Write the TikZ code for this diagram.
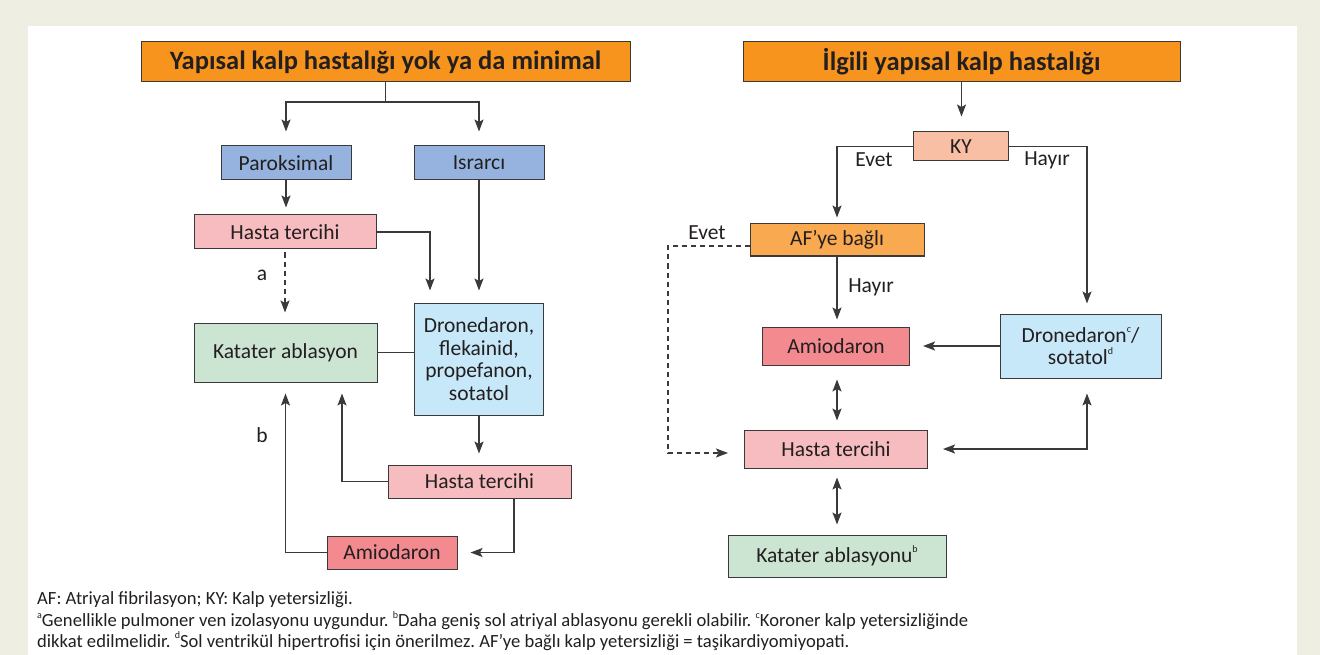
\documentclass[tikz,border=0pt]{standalone}
\usepackage{fontspec}
\setmainfont{Carlito}
\usetikzlibrary{arrows.meta}
\frenchspacing

\definecolor{zemin}{HTML}{EFEEE3}
\definecolor{cizgi}{HTML}{3A3A3A}
\definecolor{yazi}{HTML}{231F20}
\definecolor{turuncu}{HTML}{F7941D}
\definecolor{mavi}{HTML}{95B3DE}
\definecolor{pembe}{HTML}{F7BCBF}
\definecolor{yesil}{HTML}{CCE5D3}
\definecolor{acikmavi}{HTML}{C7E8F8}
\definecolor{kirmizi}{HTML}{F28A8F}
\definecolor{acikturuncu}{HTML}{F9A94F}
\definecolor{somon}{HTML}{F9BFA5}

\newcommand{\ust}[1]{\raisebox{0.45em}{\fontsize{10}{10}\selectfont #1}}

\tikzset{
  >={Stealth[length=12pt,width=9pt,inset=2.5pt]},
  kutu/.style={draw=cizgi, line width=1pt, inner sep=0pt, align=center,
    text=yazi, font=\fontsize{21.5}{22.5}\selectfont},
  baslik/.style={kutu, fill=turuncu, minimum height=40pt,
    font=\fontsize{26.5}{28}\selectfont\bfseries},
  hat/.style={draw=cizgi, line width=1.2pt},
  kesik/.style={dash pattern=on 5pt off 4pt},
  etiket/.style={text=yazi, inner sep=0pt, font=\fontsize{21.5}{22}\selectfont},
  dipnot/.style={text=yazi, inner sep=0pt, anchor=west, font=\fontsize{18.6}{20}\selectfont}
}

\begin{document}
\begin{tikzpicture}[x=1pt,y=-1pt]
\fill[zemin] (0,0) rectangle (1320,655);
\fill[white] (28,26) rectangle (1297,655);

% sol taraf
\node[baslik, minimum width=489pt] (yok) at (385.5,62) {Yapısal kalp hastalığı yok ya da minimal};
\node[kutu, fill=mavi, minimum width=130pt, minimum height=34pt] (parok) at (286,163) {Paroksimal};
\node[kutu, fill=mavi, minimum width=130pt, minimum height=34pt] (israr) at (479,163) {Israrcı};
\node[kutu, fill=pembe, minimum width=182pt, minimum height=34pt] (tercihA) at (285,232) {Hasta tercihi};
\node[kutu, fill=yesil, minimum width=183pt, minimum height=59pt] (ablasA) at (285.5,352.5) {Katater ablasyon};
\node[kutu, fill=acikmavi, minimum width=129pt, minimum height=112pt] (droA) at (479,359) {Dronedaron,\\flekainid,\\propefanon,\\sotatol};
\node[kutu, fill=pembe, minimum width=183pt, minimum height=33pt] (tercihB) at (479.5,481.5) {Hasta tercihi};
\node[kutu, fill=kirmizi, minimum width=130pt, minimum height=33pt] (amioA) at (392,552.5) {Amiodaron};

\coordinate (ayrim) at (385.5,102);
\draw[hat] (yok.south) -- (ayrim);
\draw[hat, ->, shorten >=14pt] (ayrim) -| (parok.north);
\draw[hat, ->, shorten >=14pt] (ayrim) -| (israr.north);
\draw[hat, ->, shorten >=7pt] (parok.south) -- (parok.south |- tercihA.north);
\draw[hat, ->, shorten >=12pt] (tercihA.east) -| ([xshift=16pt]droA.north west);
\draw[hat, ->, shorten >=12pt] (israr.south) -- (israr.south |- droA.north);
\draw[hat, ->, kesik, shorten <=3pt, shorten >=10pt] (tercihA.south) -- (tercihA.south |- ablasA.north);
\draw[hat] (ablasA.east) -- (ablasA.east -| droA.west);
\draw[hat, ->, shorten >=11pt] (droA.south) -- (droA.south |- tercihB.north);
\draw[hat, ->, shorten >=11pt] (tercihB.west) -| ([xshift=56.5pt]ablasA.south);
\draw[hat, ->, shorten >=13pt] ([xshift=34.5pt]tercihB.south) |- (amioA.east);
\draw[hat, ->, shorten >=11pt] (amioA.west) -| (ablasA.south);
\node[etiket] (la) at (262,275) {a};
\node[etiket] (lb) at (262,435) {b};

% sag taraf
\node[baslik, minimum width=437pt] (ilgili) at (961.5,62) {İlgili yapısal kalp hastalığı};
\node[kutu, fill=somon, minimum width=95pt, minimum height=29pt] (ky) at (961,146.5) {KY};
\node[kutu, fill=acikturuncu, minimum width=174pt, minimum height=32pt] (afb) at (837,240) {AF’ye bağlı};
\node[kutu, fill=kirmizi, minimum width=147pt, minimum height=38pt] (amioB) at (836,346) {Amiodaron};
\node[kutu, fill=acikmavi, minimum width=161pt, minimum height=64pt] (droB) at (1080.5,346) {Dronedaron\ust{c}/\\sotatol\ust{d}};
\node[kutu, fill=pembe, minimum width=183pt, minimum height=38pt] (tercihC) at (836,449) {Hasta tercihi};
\node[kutu, fill=yesil, minimum width=218pt, minimum height=42pt] (ablasB) at (837,556) {Katater ablasyonu\ust{b}};

\draw[hat, ->, shorten >=15pt] (ilgili.south) -- (ilgili.south |- ky.north);
\draw[hat, ->, shorten >=6pt] (ky.west) -| (afb.north);
\draw[hat, ->, shorten >=10pt] (ky.east) -| ([xshift=6.5pt]droB.north);
\draw[hat, ->, shorten >=7pt] (afb.south) -- (afb.south |- amioB.north);
\coordinate (evetkose) at (668,246);
\draw[hat, ->, kesik, shorten >=16pt] ([yshift=-6pt]afb.west) -- (evetkose) |- ([yshift=-4pt]tercihC.west);
\draw[hat, ->, shorten >=13pt] (droB.west) -- (droB.west -| amioB.east);
\draw[hat, <->, shorten <=14pt, shorten >=9pt] (afb.south |- amioB.south) -- (afb.south |- tercihC.north);
\draw[hat, <->, shorten <=15pt, shorten >=15pt] (tercihC.east) -| ([xshift=6.5pt]droB.south);
\draw[hat, <->, shorten <=9pt, shorten >=10pt] (afb.south |- tercihC.south) -- (afb.south |- ablasB.north);
\node[etiket] (levet) at (874,160) {Evet};
\node[etiket] (lhayir) at (1047,160) {Hayır};
\node[etiket] (lhayirB) at (871,287) {Hayır};
\node[etiket] (levetB) at (707,233) {Evet};

% dipnotlar
\node[dipnot] (dn1) at (37,600) {AF: Atriyal fibrilasyon; KY: Kalp yetersizliği.};
\node[dipnot] (dn2) at (37,620.5) {\ust{a}Genellikle pulmoner ven izolasyonu uygundur. \ust{b}Daha geniş sol atriyal ablasyonu gerekli olabilir. \ust{c}Koroner kalp yetersizliğinde};
\node[dipnot] (dn3) at (37,641) {dikkat edilmelidir. \ust{d}Sol ventrikül hipertrofisi için önerilmez. AF’ye bağlı kalp yetersizliği = taşikardiyomiyopati.};
\end{tikzpicture}
\end{document}
